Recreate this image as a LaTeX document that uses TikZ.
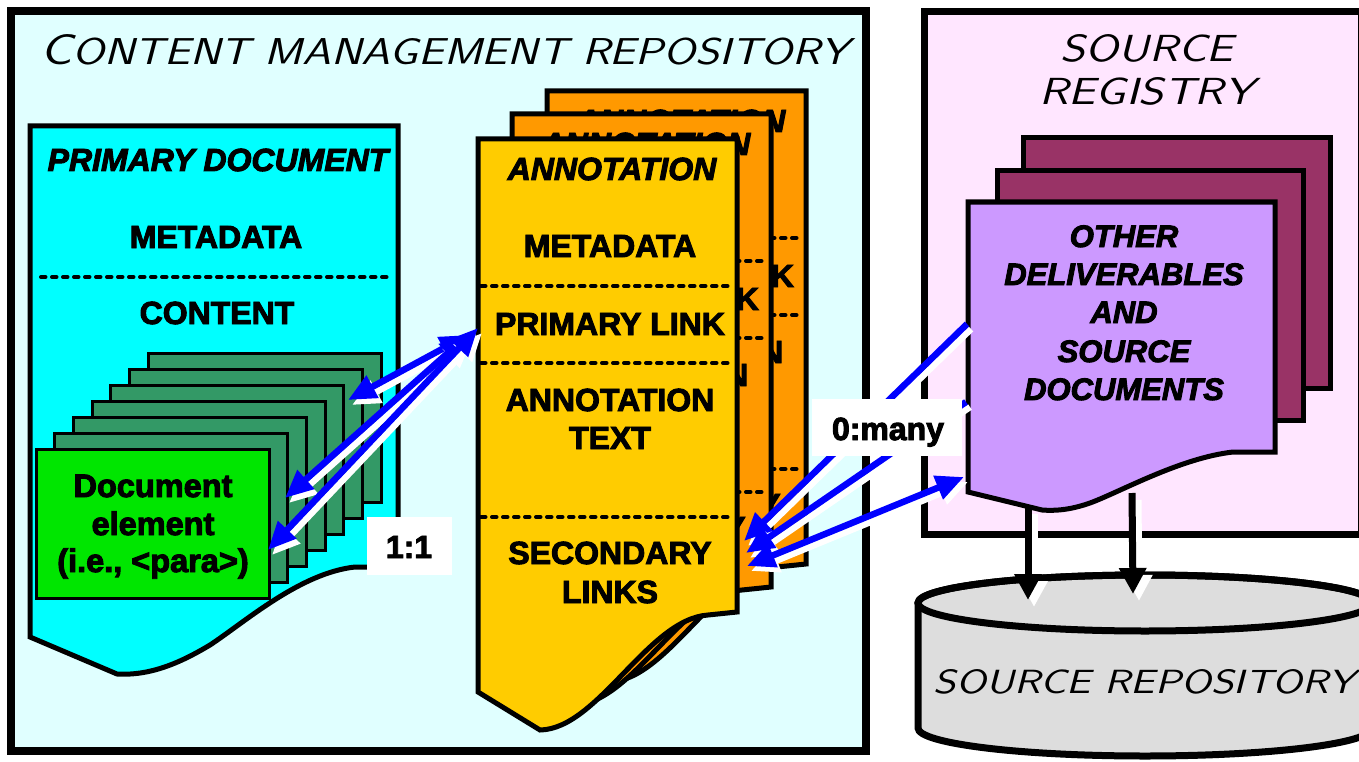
\documentclass[tikz,border=0pt]{standalone}
\usepackage{fontspec}
\usepackage{graphicx}
\newfontfamily\labelfont{Liberation Sans}[BoldFeatures={FakeBold=3}, BoldItalicFeatures={FakeBold=3}]
\usetikzlibrary{arrows.meta}

\definecolor{repobg}{HTML}{E0FFFF}
\definecolor{primarycyan}{HTML}{00FFFF}
\definecolor{elemgreen}{HTML}{00E600}
\definecolor{stackgreen}{HTML}{339966}
\definecolor{annoyellow}{HTML}{FFCC00}
\definecolor{annoorange}{HTML}{FF9900}
\definecolor{registrypink}{HTML}{FFE6FF}
\definecolor{otherpurple}{HTML}{CC99FF}
\definecolor{othermagenta}{HTML}{993366}
\definecolor{storegray}{HTML}{DDDDDD}
\definecolor{linkblue}{HTML}{0000FF}

% thin oblique titles, stretched to a given width and cap height
\newcommand\thintitle[3]{\resizebox{#1}{#2}{\sffamily\itshape #3}}

% a connector with a white drop shadow below-right of it
\newcommand\shadowlink[5][4,5]{%
  \draw[white,#2] ([shift={(#1)}]#3) -- ([shift={(#1)}]#4);
  \draw[#5,#2] (#3) -- (#4);}

\tikzset{
  boldtxt/.style={font=\labelfont\bfseries\fontsize{32}{38}\selectfont, inner sep=0pt, anchor=base},
  bolditxt/.style={font=\labelfont\bfseries\itshape\fontsize{32}{38}\selectfont, inner sep=0pt, anchor=base},
  elemtxt/.style={font=\labelfont\bfseries\fontsize{32.5}{38}\selectfont, inner sep=0pt, anchor=base},
  othertxt/.style={font=\labelfont\bfseries\itshape\fontsize{31}{38}\selectfont, inner sep=0pt, anchor=base},
  thintxt/.style={inner sep=0pt, anchor=base},
  docline/.style={draw=black, line width=5pt},
  dashline/.style={line width=4pt, dash pattern=on 4.5pt off 6.5pt, line cap=round},
  link/.style={line width=6.5pt},
  onehead/.style={link, -{Triangle[length=28pt,width=24pt]}},
  twohead/.style={link, {Triangle[length=28pt,width=24pt]}-{Triangle[length=28pt,width=24pt]}},
  downhead/.style={line width=7pt, -{Triangle[length=26pt,width=26pt]}},
  % one annotation sheet, top-left corner at the pic origin; the texts that
  % show past the edges of the sheets stacked in front of it
  annodoc/.pic={
    \path[docline, fill=#1] (0,0) -- (259,0) -- (259,473) -- (230,476)
      .. controls (170,480) and (120,590) .. (62,591) -- (0,553) -- cycle;
    \foreach \yy in {147,224,378} \draw[dashline] (3,\yy) -- (256,\yy);
    \node[bolditxt] (-head) at (134,41) {ANNOTATION};
    \node[boldtxt] (-plink) at (132,196) {PRIMARY LINK};
    \node[boldtxt] (-atext) at (132,272) {ANNOTATION};
    \node[boldtxt] (-slink) at (132,425) {SECONDARY};
  }
}

\begin{document}
\begin{tikzpicture}[x=1pt, y=-1pt]
\clip (0,0) rectangle (1359,762);
\fill[white] (0,0) rectangle (1359,762);

% ---------- content management repository ----------
\draw[line width=8pt, fill=repobg] (11,11) rectangle (866,751);
\node[thintxt] (cmr-title) at (445,65)
  {\resizebox{809pt}{30pt}{\sffamily\itshape{\fontsize{30}{30}\selectfont C}{\fontsize{26}{26}\selectfont ONTENT MANAGEMENT REPOSITORY}}};

% primary document
\path[docline, fill=primarycyan] (30,126) -- (398,126) -- (398,567) -- (355,567)
  .. controls (300,573) and (245,622) .. (210,645)
  .. controls (180,663) and (150,676) .. (117,674) -- (30,637) -- cycle;
\node[bolditxt] (pd-head) at (218,171) {PRIMARY DOCUMENT};
\node[boldtxt] (pd-meta) at (216,248) {METADATA};
\draw[dashline] (41,277) -- (392,277);
\node[boldtxt] (pd-content) at (217,324) {CONTENT};

% stack of document elements
\foreach \k in {6,5,...,1}
  \draw[line width=3pt, fill=stackgreen] ({36+18.7*\k},{449-16*\k}) rectangle ++(233,149);
\draw[line width=3pt, fill=elemgreen] (36,449) rectangle (269,598);
\node[elemtxt] (el-1) at (153,497) {Document};
\node[elemtxt] (el-2) at (153,535) {element};
\node[elemtxt] (el-3) at (153,572) {(i.e., <para>)};

% annotations
\pic (anno-back) at (547,91) {annodoc=annoorange};
\pic (anno-mid) at (512,114) {annodoc=annoorange};
\pic (anno-front) at (478,139) {annodoc=annoyellow};
\node[boldtxt] (anno-meta) at (610,257) {METADATA};
\node[boldtxt] (anno-text) at (610,449) {TEXT};
\node[boldtxt] (anno-links) at (610,603) {LINKS};

% ---------- source registry ----------
\draw[line width=7pt, fill=registrypink] (924,12) rectangle (1361,534);
\node[thintxt] (sr-title1) at (1147,62) {\thintitle{173pt}{27pt}{SOURCE}};
\node[thintxt] (sr-title2) at (1147,105) {\thintitle{215pt}{27pt}{REGISTRY}};

\draw[docline, fill=othermagenta] (1023,138) rectangle (1330,388);
\draw[docline, fill=othermagenta] (997,171) rectangle (1303,420);
\path[docline, fill=otherpurple] (968,202) -- (1275,202) -- (1275,452) -- (1233,452)
  .. controls (1180,458) and (1120,492) .. (1090,503)
  .. controls (1070,510) and (1055,511) .. (1042,510) -- (968,492) -- cycle;
\node[othertxt] (od-1) at (1124,247) {OTHER};
\node[othertxt] (od-2) at (1124,285) {DELIVERABLES};
\node[othertxt] (od-3) at (1124,323) {AND};
\node[othertxt] (od-4) at (1124,362) {SOURCE};
\node[othertxt] (od-5) at (1124,400) {DOCUMENTS};

% ---------- source repository ----------
\path[draw=black, line width=7pt, fill=storegray] (918,603) -- (918,728)
  arc[start angle=180, end angle=360, x radius=227pt, y radius=28pt] -- (1372,603)
  arc[start angle=0, end angle=180, x radius=227pt, y radius=28pt] -- cycle;
\draw[line width=7pt] (1145,603) ellipse[x radius=227pt, y radius=28pt];
\node[thintxt] (store-title) at (1145,693) {\thintitle{422pt}{24pt}{SOURCE REPOSITORY}};

% ---------- connectors ----------
\coordinate (plink-a) at (478,328);
\coordinate (plink-b) at (468,335);
\coordinate (elem-front) at (268,550);
\coordinate (elem-mid) at (285,498);
\coordinate (elem-back) at (348,400);
\coordinate (slink-a) at (744,541);
\coordinate (slink-b) at (746,553);
\coordinate (slink-c) at (747,566);
\coordinate (other-a) at (967,324);
\coordinate (other-b) at (966,402);
\coordinate (other-c) at (964,477);
\coordinate (drop-a) at (1028,507);
\coordinate (store-a) at (1028,600);
\coordinate (drop-b) at (1132,493);
\coordinate (store-b) at (1133,594);

\shadowlink{twohead}{plink-b}{elem-back}{linkblue}
\shadowlink{twohead}{plink-b}{elem-mid}{linkblue}
\shadowlink{twohead}{plink-a}{elem-front}{linkblue}

\shadowlink{onehead}{other-a}{slink-a}{linkblue}
\shadowlink{onehead}{other-b}{slink-b}{linkblue}
\shadowlink{twohead}{slink-c}{other-c}{linkblue}

\shadowlink[6,7]{downhead}{drop-a}{store-a}{black}
\shadowlink[6,7]{downhead}{drop-b}{store-b}{black}

% cardinality labels
\node[fill=white, minimum width=85pt, minimum height=58pt, inner sep=0pt] (one-box) at (409.5,546) {};
\node[boldtxt] (one-one) at (409,558) {1:1};
\node[fill=white, minimum width=150pt, minimum height=57pt, inner sep=0pt] (many-box) at (887,427.5) {};
\node[boldtxt] (zero-many) at (888,440) {0:many};
\end{tikzpicture}
\end{document}
